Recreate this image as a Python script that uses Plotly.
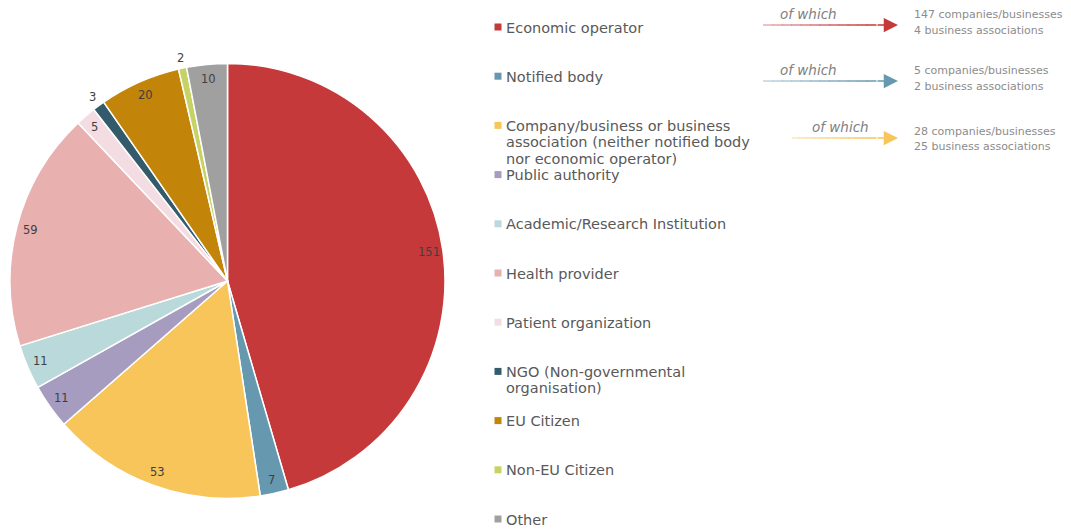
import math
import plotly.graph_objects as go

# Respondent categories and counts
categories = [
    "Economic operator",
    "Notified body",
    "Company/business or business<br>association (neither notified body<br>nor economic operator)",
    "Public authority",
    "Academic/Research Institution",
    "Health provider",
    "Patient organization",
    "NGO (Non-governmental<br>organisation)",
    "EU Citizen",
    "Non-EU Citizen",
    "Other",
]
counts = [151, 7, 53, 11, 11, 59, 5, 3, 20, 2, 10]
colors = ["#C5393B", "#6699B0", "#F7C55A", "#A59CC0", "#BAD9DB", "#E8B0AF",
          "#F3DDE2", "#345B6B", "#C28409", "#C6D264", "#A0A0A0"]

# Breakdown notes for the first three categories
breakdown_rows = [0, 1, 2]
breakdown_text = [
    "147 companies/businesses<br>4 business associations",
    "5 companies/businesses<br>2 business associations",
    "28 companies/businesses<br>25 business associations",
]

W, H = 1071, 530
FONT = "'DejaVu Sans', sans-serif"

# Pie geometry in pixels
cx, cy, R = 227.5, 281.0, 217.5


def px(x):
    return x / W


def py(y):
    return 1 - y / H


fig = go.Figure(go.Pie(
    labels=[c.replace("<br>", " ") for c in categories],
    values=counts,
    sort=False,
    direction="clockwise",
    rotation=0,
    marker=dict(colors=colors, line=dict(color="white", width=1.5)),
    textinfo="none",
    hoverinfo="label+value",
    showlegend=False,
    domain=dict(x=[px(cx - R), px(cx + R)], y=[py(cy + R), py(cy - R)]),
))

annotations = []
shapes = []

# Value labels placed near the rim of each slice (small slices outside)
total = sum(counts)
cum = 0
for v in counts:
    mid = (cum + v / 2) / total * 2 * math.pi
    cum += v
    r = R * (1.05 if v < 4 else 0.935)
    lx = cx + r * math.sin(mid)
    ly = cy - r * math.cos(mid)
    annotations.append(dict(
        x=px(lx), y=py(ly), xref="paper", yref="paper",
        text=str(v), showarrow=False,
        font=dict(family=FONT, size=11.5, color="#404040"),
        xanchor="center", yanchor="middle",
    ))

# Hand-built legend, one text line per annotation for tight line spacing
leg_x, leg_y0, leg_dy, leg_line = 498, 27, 49.2, 16.5
for i, (lab, col) in enumerate(zip(categories, colors)):
    yy = leg_y0 + leg_dy * i
    shapes.append(dict(
        type="rect", xref="paper", yref="paper",
        x0=px(leg_x - 3.5), x1=px(leg_x + 3.5),
        y0=py(yy + 3.5), y1=py(yy - 3.5),
        fillcolor=col, line=dict(width=0),
    ))
    for j, line in enumerate(lab.split("<br>")):
        annotations.append(dict(
            x=px(leg_x + 6), y=py(yy + 0.5 + j * leg_line), xref="paper", yref="paper",
            text=line, showarrow=False, align="left",
            font=dict(family=FONT, size=14.5, color="#595959"),
            xanchor="left", yanchor="middle",
        ))

# "of which" arrows (line fading in from the left) with breakdown notes
arrow_y = [25, 81, 138]
arrow_x0 = [763, 763, 792]
word_x = [808, 808, 840]
note_y = [15, 71, 131]
note_line = 15.5
head_x = 898
stem = 22
n_seg = 12
for k, row in enumerate(breakdown_rows):
    ay = arrow_y[k]
    x_start, x_end = arrow_x0[k], head_x - stem
    seg = (x_end - x_start) / n_seg
    for s in range(n_seg):
        shapes.append(dict(
            type="line", xref="paper", yref="paper",
            x0=px(x_start + s * seg), x1=px(x_start + (s + 1) * seg + 0.5),
            y0=py(ay), y1=py(ay),
            line=dict(color=colors[row], width=1.5),
            opacity=0.35 + 0.65 * (s + 1) / n_seg,
        ))
    annotations.append(dict(
        x=px(head_x), y=py(ay), xref="paper", yref="paper",
        ax=-stem, ay=0,
        text="", showarrow=True, arrowhead=2, arrowsize=1.9,
        arrowwidth=1.5, arrowcolor=colors[row],
    ))
    annotations.append(dict(
        x=px(word_x[k]), y=py(ay - 11), xref="paper", yref="paper",
        text="<i>of which</i>", showarrow=False,
        font=dict(family=FONT, size=13.5, color="#808080"),
        xanchor="center", yanchor="middle",
    ))
    for j, line in enumerate(breakdown_text[k].split("<br>")):
        annotations.append(dict(
            x=px(912), y=py(note_y[k] + j * note_line), xref="paper", yref="paper",
            text=line, showarrow=False, align="left",
            font=dict(family=FONT, size=11, color="#8C8C8C"),
            xanchor="left", yanchor="middle",
        ))

fig.update_layout(
    width=W, height=H,
    margin=dict(l=0, r=0, t=0, b=0),
    paper_bgcolor="white",
    plot_bgcolor="white",
    annotations=annotations,
    shapes=shapes,
)

fig.write_html("out.html")
